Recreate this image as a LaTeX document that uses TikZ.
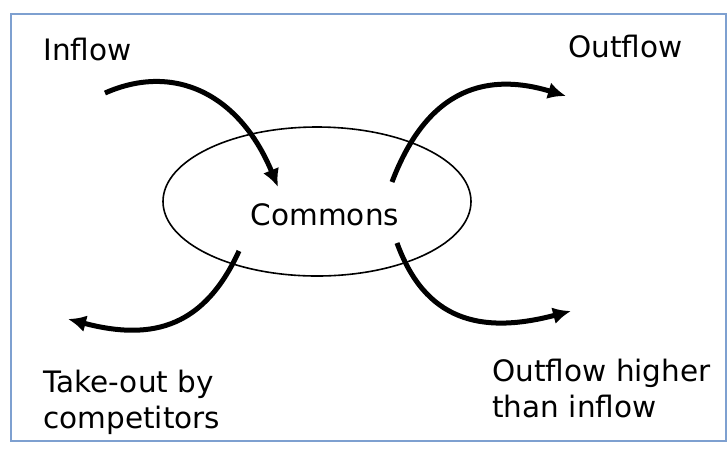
\documentclass[tikz,border=0pt]{standalone}
\usepackage{fontspec}
\setmainfont{DejaVu Sans}
\usetikzlibrary{shapes,arrows.meta,positioning}
\definecolor{panelblue}{RGB}{126,160,208}
\tikzset{
pool/.style = {draw, ellipse, line width=0.8pt, minimum width=154pt, minimum height=74.5pt, inner sep=0pt},
caption/.style = {anchor=base west, inner sep=0pt, align=left, font=\fontsize{14.75pt}{17.75pt}\selectfont},
flow/.style = {line width=2.5pt, -{Latex[length=9pt,width=8.5pt]}},
panel/.style = {draw=panelblue, line width=1pt}
}
\begin{document}
\begin{tikzpicture}[x=0.5pt, y=-0.5pt]
    \useasboundingbox (0,0) rectangle (728,457);
    \draw [panel] (11,14) rectangle (726,441);
    \node [pool] (commons) at (317,201.5) {};
    \node [caption, anchor=base] (commonstext) at (325,225) {Commons};
    \node [caption] (inflow) at (43,60) {Inflow};
    \node [caption] (outflow) at (568,57) {Outflow};
    \node [caption] (takeout) at (43,428) {Take-out by\\competitors};
    \node [caption] (higher) at (492,417) {Outflow higher\\than inflow};
    \coordinate (inA) at (105,93);
    \coordinate (inB) at (278,187);
    \coordinate (outA) at (392,182);
    \coordinate (outB) at (566,96);
    \coordinate (takeA) at (239,251);
    \coordinate (takeB) at (68,319);
    \coordinate (highA) at (397,243);
    \coordinate (highB) at (571,311);
    \draw [flow] (inA) .. controls (175,62) and (240,95) .. (inB);
    \draw [flow] (outA) .. controls (425,95) and (480,70) .. (outB);
    \draw [flow] (takeA) .. controls (205,325) and (155,342) .. (takeB);
    \draw [flow] (highA) .. controls (425,320) and (480,335) .. (highB);
\end{tikzpicture}
\end{document}
